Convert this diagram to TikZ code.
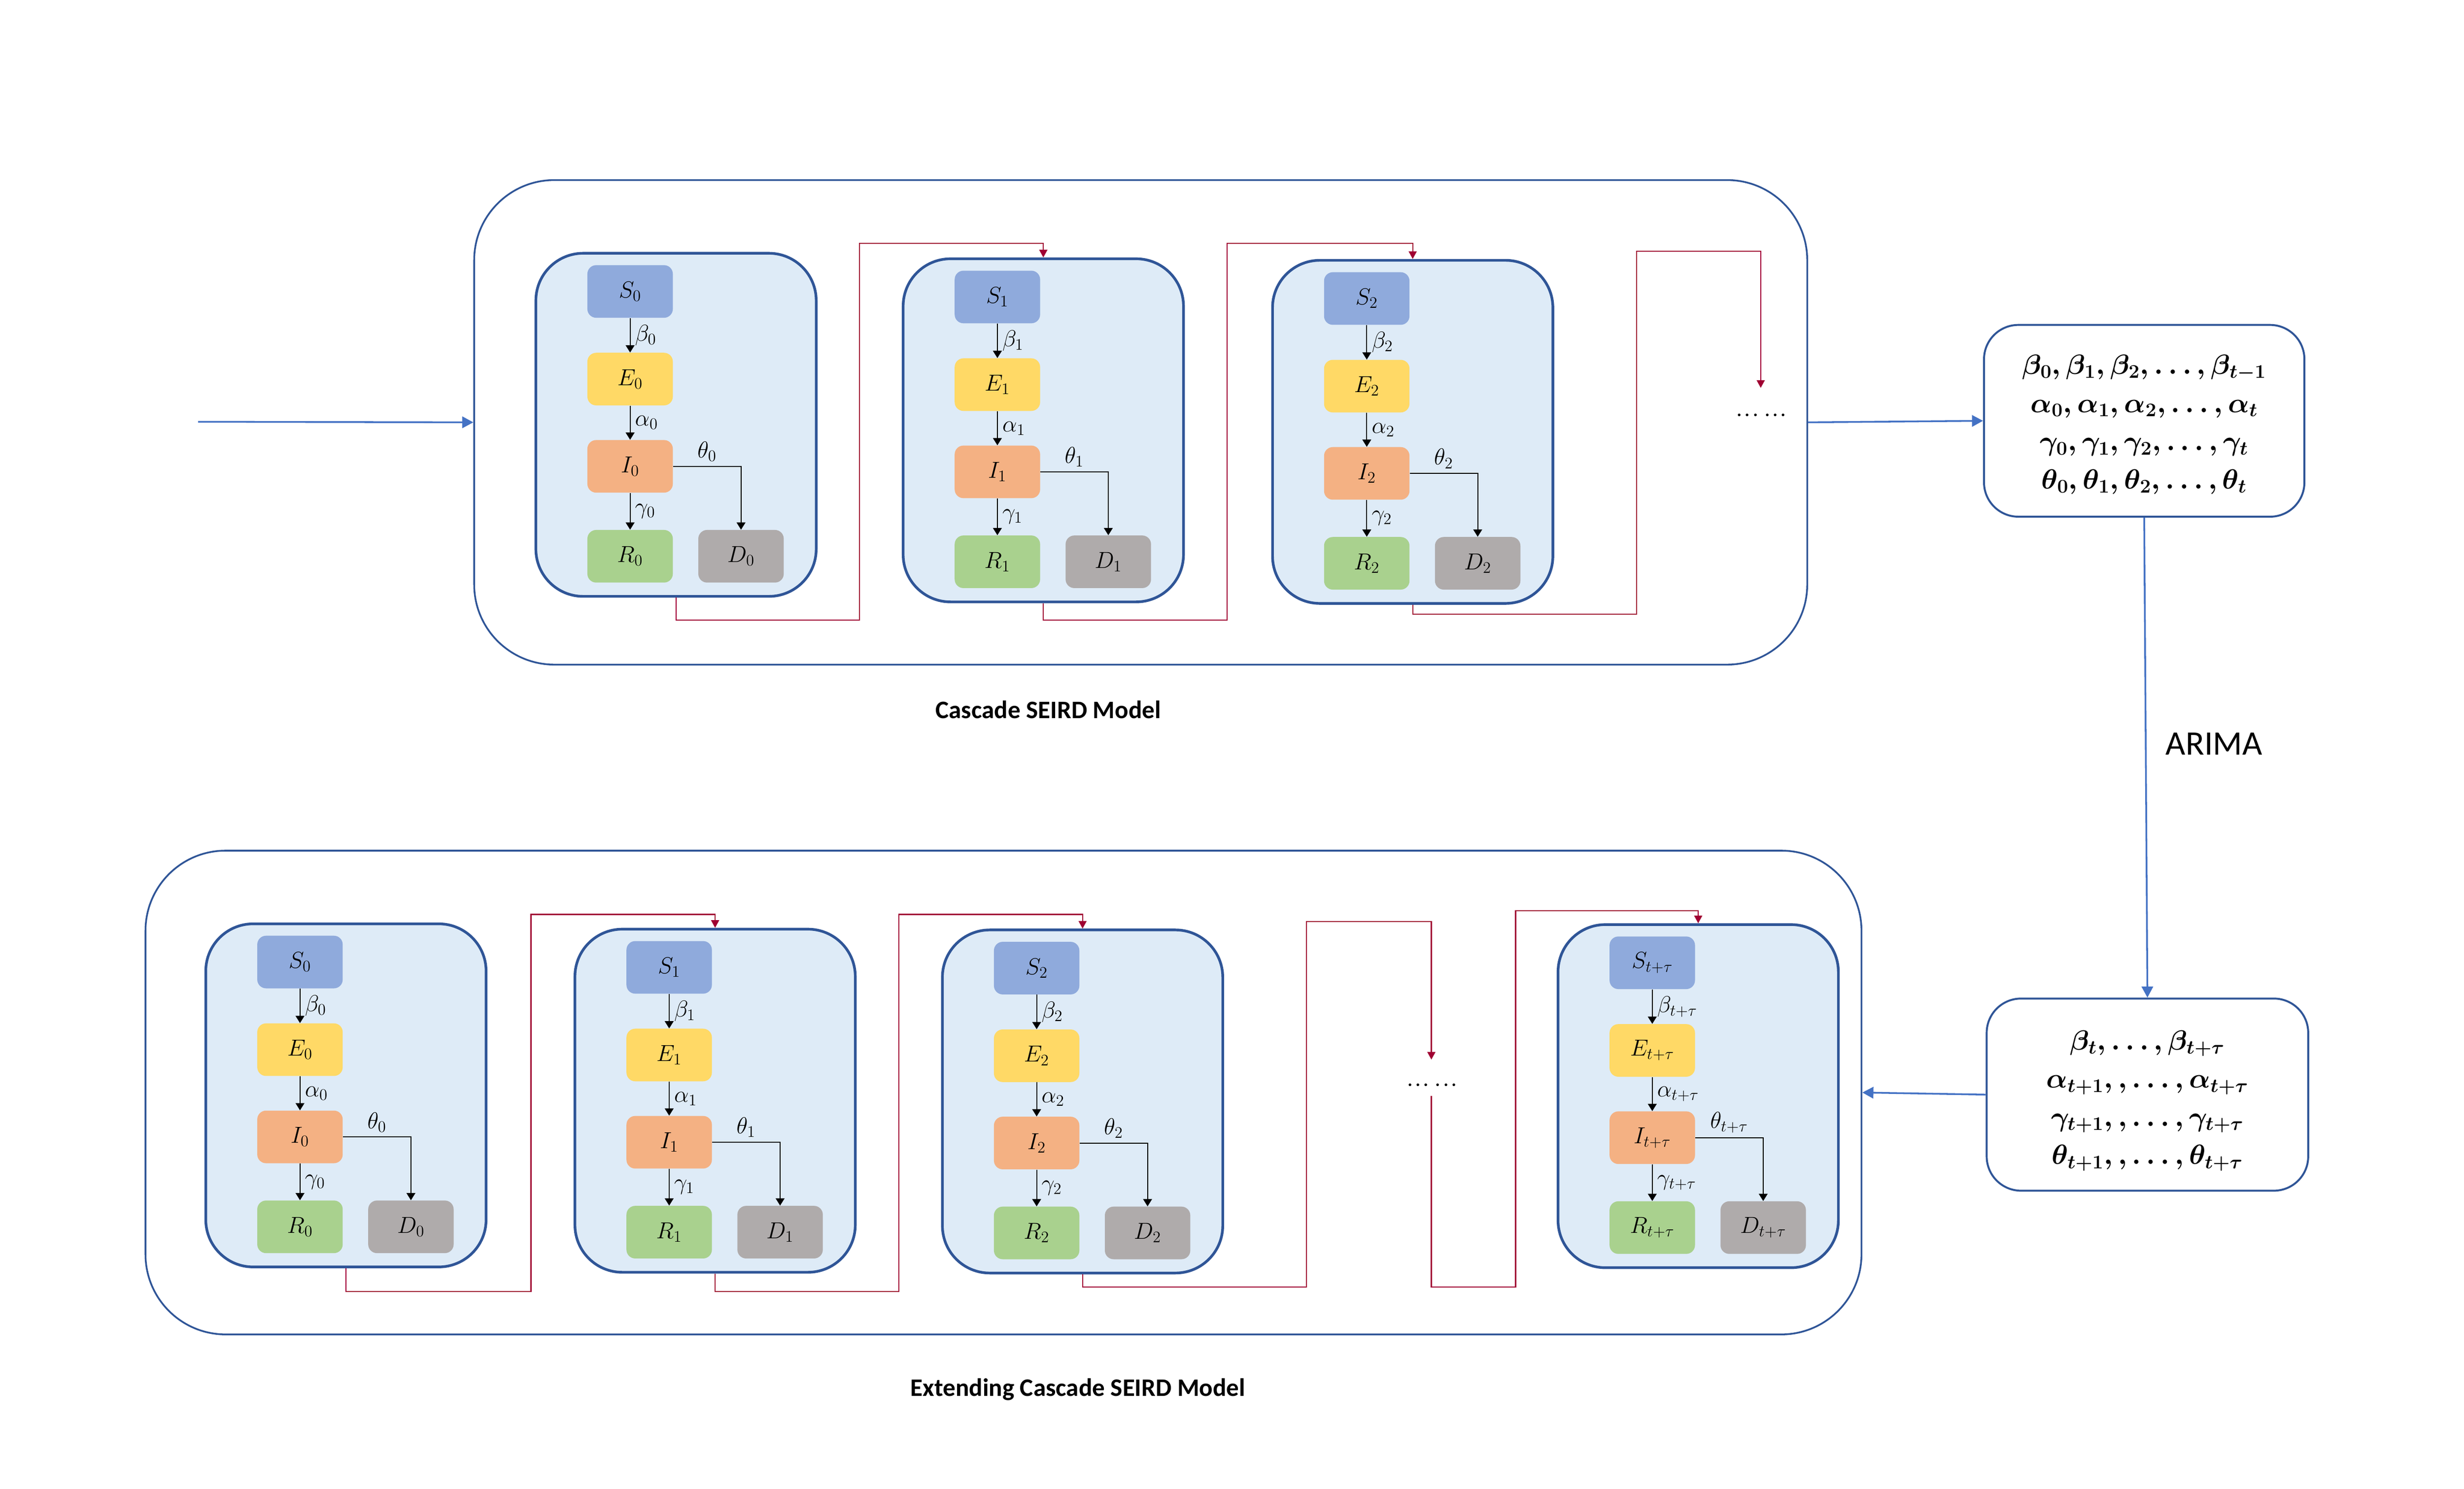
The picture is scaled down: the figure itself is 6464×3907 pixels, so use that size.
\documentclass[tikz,border=0pt]{standalone}
\usepackage{fontspec}
\usepackage{amsmath}
\newfontfamily\calib{Carlito}
\usetikzlibrary{arrows.meta,calc}
\definecolor{dkblue}{HTML}{2F5597}
\definecolor{cfill}{HTML}{DEEBF7}
\definecolor{cS}{HTML}{8FAADC}
\definecolor{cE}{HTML}{FFD966}
\definecolor{cI}{HTML}{F4B183}
\definecolor{cR}{HTML}{A9D18E}
\definecolor{cD}{HTML}{AFABAB}
\definecolor{cred}{RGB}{160,0,50}
\definecolor{cblue}{HTML}{4472C4}
\tikzset{
  cont/.style={draw=dkblue, line width=2pt, fill=cfill, rounded corners=1.24cm, minimum width=7.35cm, minimum height=9cm, inner sep=0pt},
  cbox/.style={rounded corners=0.23cm, minimum width=2.24cm, minimum height=1.38cm, inner sep=0pt, font=\fontsize{16.5}{19}\selectfont},
  outerbox/.style={draw=dkblue, line width=1.3pt, rounded corners=2.1cm, inner sep=0pt},
  pbox/.style={draw=dkblue, line width=1.45pt, rounded corners=0.9cm, inner sep=0pt},
  ptxt/.style={inner sep=0pt, align=center, font=\fontsize{22}{28.5}\selectfont\boldmath},
  blk/.style={draw=black, line width=0.75pt, -{Triangle[length=0.19cm,width=0.23cm]}},
  lbl/.style={font=\fontsize{16.5}{19}\selectfont},
  redln/.style={draw=cred, line width=0.85pt},
  redarr/.style={redln, -{Triangle[length=0.2cm,width=0.21cm]}},
  bluearr/.style={draw=cblue, line width=1.3pt, -{Triangle[length=0.29cm,width=0.3cm]}},
  ttl/.style={font=\fontsize{18.8}{22}\selectfont\calib\bfseries, anchor=base},
  dotsty/.style={font=\fontsize{24}{26}\selectfont, inner sep=0pt}
}
\newcommand{\seird}[4]{%
  \node[cont] (#1) at (#2,#3) {};
  \node[cbox,fill=cS] (#1S) at ({#2-120.5},{#3-350}) {$S_{#4}$};
  \node[cbox,fill=cE] (#1E) at ({#2-120.5},{#3-120}) {$E_{#4}$};
  \node[cbox,fill=cI] (#1I) at ({#2-120.5},{#3+109}) {$I_{#4}$};
  \node[cbox,fill=cR] (#1R) at ({#2-120.5},{#3+345}) {$R_{#4}$};
  \node[cbox,fill=cD] (#1D) at ({#2+170.5},{#3+345}) {$D_{#4}$};
  \draw[blk] (#1S) -- node[lbl,right]{$\beta_{#4}$} (#1E);
  \draw[blk] (#1E) -- node[lbl,right]{$\alpha_{#4}$} (#1I);
  \draw[blk] (#1I) -- node[lbl,right]{$\gamma_{#4}$} (#1R);
  \draw[blk] (#1I.east) -| node[lbl,above,pos=0.25]{$\theta_{#4}$} (#1D.north);
}
\begin{document}
\begin{tikzpicture}[x=0.01cm,y=-0.01cm]
\useasboundingbox (0,0) rectangle (6464,3907);
% outer frames
\node[outerbox, minimum width=34.95cm, minimum height=12.71cm] (OT) at (2992.5,1108.5) {};
\node[outerbox, minimum width=44.99cm, minimum height=12.69cm] (OB) at (2632.5,2867.5) {};
% parameter boxes
\node[pbox, minimum width=8.4cm, minimum height=5.03cm] (PT) at (5625,1104.5) {};
\node[ptxt] (PTtxt) at (5625,1114)
  {$\beta_0,\beta_1,\beta_2,\dots,\beta_{t-1}$\\
   $\alpha_0,\alpha_1,\alpha_2,\dots,\alpha_t$\\
   $\gamma_0,\gamma_1,\gamma_2,\dots,\gamma_t$\\
   $\theta_0,\theta_1,\theta_2,\dots,\theta_t$};
\node[pbox, minimum width=8.43cm, minimum height=5.04cm] (PB) at (5633.5,2873) {};
\node[ptxt] (PBtxt) at (5633.5,2889)
  {$\beta_t,\dots,\beta_{t+\tau}$\\
   $\alpha_{t+1},,\dots,\alpha_{t+\tau}$\\
   $\gamma_{t+1},,\dots,\gamma_{t+\tau}$\\
   $\theta_{t+1},,\dots,\theta_{t+\tau}$};
% SEIRD blocks, top row
\seird{T0}{1773.5}{1115}{0}
\seird{T1}{2737}{1129.5}{1}
\seird{T2}{3706}{1133.5}{2}
% SEIRD blocks, bottom row
\seird{B0}{907.5}{2875}{0}
\seird{B1}{1876}{2889}{1}
\seird{B2}{2840}{2891}{2}
\seird{B3}{4455}{2877}{t+\tau}
% ellipses
\node[dotsty] (dotsT) at (4621,1089) {...\kern0.12em...};
\node[dotsty] (dotsB) at (3757,2848) {...\kern0.12em...};
\coordinate (dTin) at (4619,1018);
\coordinate (dBin) at (3755,2781);
\coordinate (dBout) at (3755,2877);
\coordinate (inS) at (520,1107);
% red cascade connectors, top
\draw[redarr] (T0.south) |- (2255,1628) -- (2255,639) -| (T1.north);
\draw[redarr] (T1.south) |- (3219,1628) -- (3219,639) -| (T2.north);
\draw[redarr] (T2.south) |- (4293,1612) -- (4293,659) -| (dTin);
% red cascade connectors, bottom
\draw[redarr] (B0.south) |- (1393,3390) -- (1393,2400) -| (B1.north);
\draw[redarr] (B1.south) |- (2358,3390) -- (2358,2400) -| (B2.north);
\draw[redarr] (B2.south) |- (3427,3378) -- (3427,2419) -| (dBin);
\draw[redarr] (dBout) |- (3976,3378) -- (3976,2390) -| (B3.north);
% blue arrows
\draw[bluearr] (inS) -- (OT.west);
\draw[bluearr] (OT.east) -- (PT.west);
\draw[bluearr] (PT.south) -- (PB.north);
\draw[bluearr] (PB.west) -- (OB.east);
% titles
\node[ttl] (tTop) at (2750,1885) {Cascade SEIRD Model};
\node[ttl] (tBot) at (2828,3665) {Extending Cascade SEIRD Model};
\node[font=\fontsize{25.6}{30}\selectfont\calib, anchor=base] (arima) at (5808,1981) {ARIMA};
\end{tikzpicture}
\end{document}
